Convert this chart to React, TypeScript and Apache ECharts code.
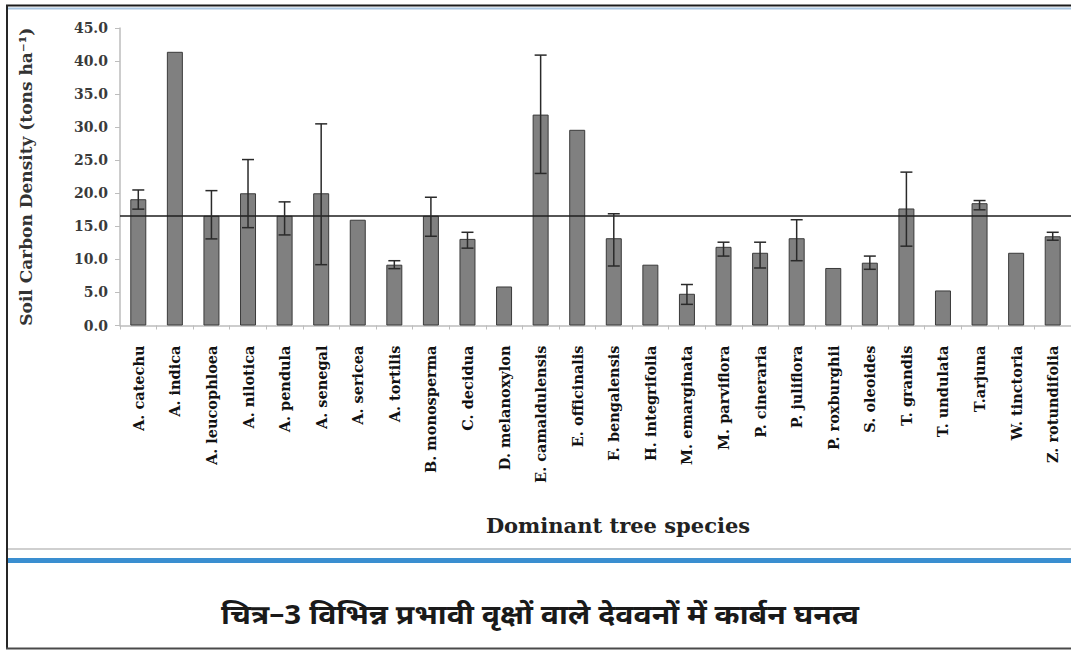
import React, { useEffect, useRef } from "react";
import * as echarts from "echarts";

const categories = [
  "A. catechu", "A. indica", "A. leucophloea", "A. nilotica", "A. pendula",
  "A. senegal", "A. sericea", "A. tortilis", "B. monosperma", "C. decidua",
  "D. melanoxylon", "E. camaldulensis", "E. officinalis", "F. bengalensis",
  "H. integrifolia", "M. emarginata", "M. parviflora", "P. cineraria",
  "P. juliflora", "P. roxburghii", "S. oleoides", "T. grandis", "T. undulata",
  "T.arjuna", "W. tinctoria", "Z. rotundifolia",
];

const carbonDensity = [
  19.1, 41.4, 16.6, 20.0, 16.6, 20.0, 16.0, 9.2, 16.6, 13.1,
  5.9, 31.9, 29.6, 13.2, 9.2, 4.8, 11.9, 11.0, 13.2, 8.7,
  9.5, 17.7, 5.3, 18.5, 11.0, 13.5,
];

const errorHigh: (number | null)[] = [
  20.5, null, 20.4, 25.1, 18.7, 30.5, null, 9.8, 19.4, 14.1,
  null, 40.9, null, 16.9, null, 6.2, 12.6, 12.6, 16.0, null,
  10.5, 23.2, null, 18.9, null, 14.1,
];

const errorLow: (number | null)[] = [
  17.6, null, 13.1, 14.8, 13.7, 9.2, null, 8.6, 13.5, 11.7,
  null, 23.0, null, 9.0, null, 3.2, 10.5, 8.7, 9.8, null,
  8.5, 12.0, null, 17.5, null, 12.9,
];

const meanValue = 16.6;
const yTicks = { min: 0, max: 45, interval: 5 };

const yAxisName = "Soil Carbon Density (tons ha⁻¹)";
const xAxisName = "Dominant tree species";
const caption = "चित्र–3 विभिन्न प्रभावी वृक्षों वाले देववनों में कार्बन घनत्व";

const SERIF = "'DejaVu Serif', 'Liberation Serif', serif";

export default function App() {
  const ref = useRef<HTMLDivElement>(null);

  useEffect(() => {
    if (!ref.current) return;
    const chart = echarts.init(ref.current, undefined, { renderer: "svg" });

    const errData: number[][] = [];
    categories.forEach((_, i) => {
      const hi = errorHigh[i];
      const lo = errorLow[i];
      if (hi != null && lo != null) errData.push([i, hi, lo]);
    });

    const option: any = {
      animation: false,
      backgroundColor: "#ffffff",
      grid: { left: 120, right: -5, top: 28, bottom: 324.5, containLabel: false },
      xAxis: {
        type: "category",
        data: categories,
        axisLine: { show: true, lineStyle: { color: "#bdbdbd", width: 1.5 } },
        axisTick: { show: true, alignWithLabel: false, length: 4, lineStyle: { color: "#bdbdbd" } },
        axisLabel: {
          interval: 0,
          rotate: 90,
          margin: 20,
          fontFamily: SERIF,
          fontWeight: "bold",
          fontSize: 14.5,
          color: "#111",
        },
        splitLine: { show: false },
      },
      yAxis: {
        type: "value",
        min: yTicks.min,
        max: yTicks.max,
        interval: yTicks.interval,
        name: yAxisName,
        nameLocation: "middle",
        nameGap: 86,
        nameRotate: 90,
        nameTextStyle: { fontFamily: SERIF, fontWeight: "bold", fontSize: 17, color: "#333" },
        axisLine: { show: true, lineStyle: { color: "#bdbdbd", width: 1.5 } },
        axisTick: { show: true, length: 5, lineStyle: { color: "#bdbdbd" } },
        axisLabel: {
          margin: 12,
          fontFamily: SERIF,
          fontWeight: "bold",
          fontSize: 14,
          color: "#3a3a3a",
          formatter: (v: number) => v.toFixed(1),
        },
        splitLine: { show: false },
      },
      series: [
        {
          type: "bar",
          data: carbonDensity,
          barWidth: 16,
          itemStyle: { color: "#808080", borderColor: "#3a3a3a", borderWidth: 1 },
          z: 2,
          markLine: {
            silent: true,
            symbol: "none",
            label: { show: false },
            lineStyle: { color: "#1e1e1e", width: 1.5, type: "solid" },
            data: [{ yAxis: meanValue }],
          },
        },
        {
          type: "custom",
          data: errData,
          encode: { x: 0, y: [1, 2] },
          z: 5,
          renderItem: (params: any, api: any) => {
            const idx = api.value(0);
            const hi = api.coord([idx, api.value(1)]);
            const lo = api.coord([idx, api.value(2)]);
            const cap = 6;
            const style = { stroke: "#2a2a2a", lineWidth: 1.5 };
            return {
              type: "group",
              children: [
                { type: "line", shape: { x1: hi[0], y1: hi[1], x2: lo[0], y2: lo[1] }, style },
                { type: "line", shape: { x1: hi[0] - cap, y1: hi[1], x2: hi[0] + cap, y2: hi[1] }, style },
                { type: "line", shape: { x1: lo[0] - cap, y1: lo[1], x2: lo[0] + cap, y2: lo[1] }, style },
              ],
            };
          },
        },
      ],
      graphic: [
        { type: "line", shape: { x1: 6, y1: 5.5, x2: 1071, y2: 5.5 }, style: { stroke: "#1c1c1c", lineWidth: 2 } },
        { type: "line", shape: { x1: 8, y1: 8.5, x2: 1071, y2: 8.5 }, style: { stroke: "#a9c6e2", lineWidth: 2 } },
        { type: "line", shape: { x1: 7, y1: 5, x2: 7, y2: 649 }, style: { stroke: "#262626", lineWidth: 2 } },
        { type: "line", shape: { x1: 6, y1: 648.5, x2: 1071, y2: 648.5 }, style: { stroke: "#4a4a4a", lineWidth: 2 } },
        { type: "line", shape: { x1: 8, y1: 549, x2: 1071, y2: 549 }, style: { stroke: "#cfcfcf", lineWidth: 2 } },
        { type: "line", shape: { x1: 8, y1: 560.5, x2: 1071, y2: 560.5 }, style: { stroke: "#3a8ed0", lineWidth: 5 } },
        {
          type: "text",
          x: 618,
          y: 525,
          style: {
            text: xAxisName,
            textAlign: "center",
            textVerticalAlign: "middle",
            fontSize: 21,
            fontWeight: "bold",
            fontFamily: SERIF,
            fill: "#222",
          },
        },
        {
          type: "text",
          x: 540,
          y: 617,
          scaleX: 1.12,
          style: {
            text: caption,
            textAlign: "center",
            textVerticalAlign: "middle",
            fontSize: 27,
            fontWeight: "bold",
            fontFamily: "'Noto Sans Devanagari', 'Lohit Devanagari', 'Noto Sans', sans-serif",
            fill: "#1a1a1a",
          },
        },
      ],
    };

    chart.setOption(option);
    return () => chart.dispose();
  }, []);

  return (
    <div
      ref={ref}
      style={{ position: "absolute", left: 0, top: 0, width: 1071, height: 650, background: "#fff" }}
    />
  );
}
